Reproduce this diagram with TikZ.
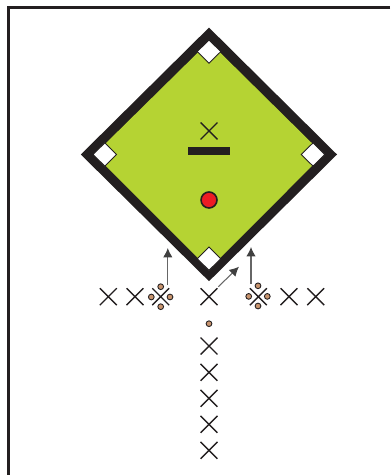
\documentclass[tikz,border=0pt]{standalone}
\usepackage{tikz}
\usetikzlibrary{arrows.meta,shapes.misc}

\definecolor{campo}{HTML}{B5D333}
\definecolor{tinta}{HTML}{231F20}
\definecolor{rojo}{HTML}{ED1C24}
\definecolor{cono}{HTML}{C8946E}

\tikzset{
  player/.style={cross out,draw=tinta,line width=0.8pt,minimum size=0.31cm,inner sep=0pt},
  cone/.style={circle,draw=tinta,fill=cono,line width=0.5pt,minimum size=0.115cm,inner sep=0pt},
  basepad/.style={fill=white,draw=tinta,line width=0.5pt},
  runarrow/.style={draw=black!60,line width=0.6pt,-{Latex[length=1.9mm,width=1.9mm,color=black!75]}}
}

\begin{document}
\begin{tikzpicture}[x=0.02cm,y=-0.02cm]
  \useasboundingbox (0,0) rectangle (390,475);
  % marco
  \draw[tinta,line width=1.5pt] (390,7.6) -- (8.7,7.6) -- (8.7,475);
  % campo
  \fill[tinta] (209,27.6) -- (337,154.5) -- (209,281.2) -- (80.8,154.5) -- cycle;
  \fill[campo] (209,41.6) -- (323.4,154.5) -- (209,269.2) -- (94.4,154.5) -- cycle;
  % bases
  \foreach \x/\y in {209/51.6,313/154.5,209/258.7,104.8/154.5}
    \draw[basepad] (\x,\y-11.6) -- (\x+11.8,\y) -- (\x,\y+11.6) -- (\x-11.8,\y) -- cycle;
  % lanzador y centro
  \node[player] (pitcher) at (209,131) {};
  \node[fill=tinta,minimum width=0.84cm,minimum height=0.16cm,inner sep=0pt] (rubber) at (209,151) {};
  \node[circle,draw=tinta,fill=rojo,line width=0.9pt,minimum size=0.32cm,inner sep=0pt] (ball) at (209,200) {};
  % fila de jugadores
  \foreach \n/\x in {a/108.3,b/135,c/160.7,d/209,e/258.3,f/289,g/315.7}
    \node[player] (row\n) at (\x,296.7) {};
  % columna de jugadores
  \foreach \n/\y in {a/346,b/372.3,c/398.3,d/424.3,e/450.3}
    \node[player] (col\n) at (209,\y) {};
  % conos
  \foreach \n/\x/\y in {a/160.7/286.7,b/151.3/297,c/170/297,d/160.7/306.7,
                        e/258/285.8,f/248.7/296.4,g/267.3/296.4,h/258/306,i/209/323.7}
    \node[cone] (cone\n) at (\x,\y) {};
  % carreras
  \coordinate (startl) at (167.8,285);
  \coordinate (endl) at (167.8,248);
  \coordinate (startr) at (251,284);
  \coordinate (endr) at (251,247);
  \coordinate (startd) at (218.3,286.7);
  \coordinate (endd) at (239,266.7);
  \draw[runarrow] (startl) -- (endl);
  \draw[runarrow] (startr) -- (endr);
  \draw[runarrow] (startd) -- (endd);
\end{tikzpicture}
\end{document}
